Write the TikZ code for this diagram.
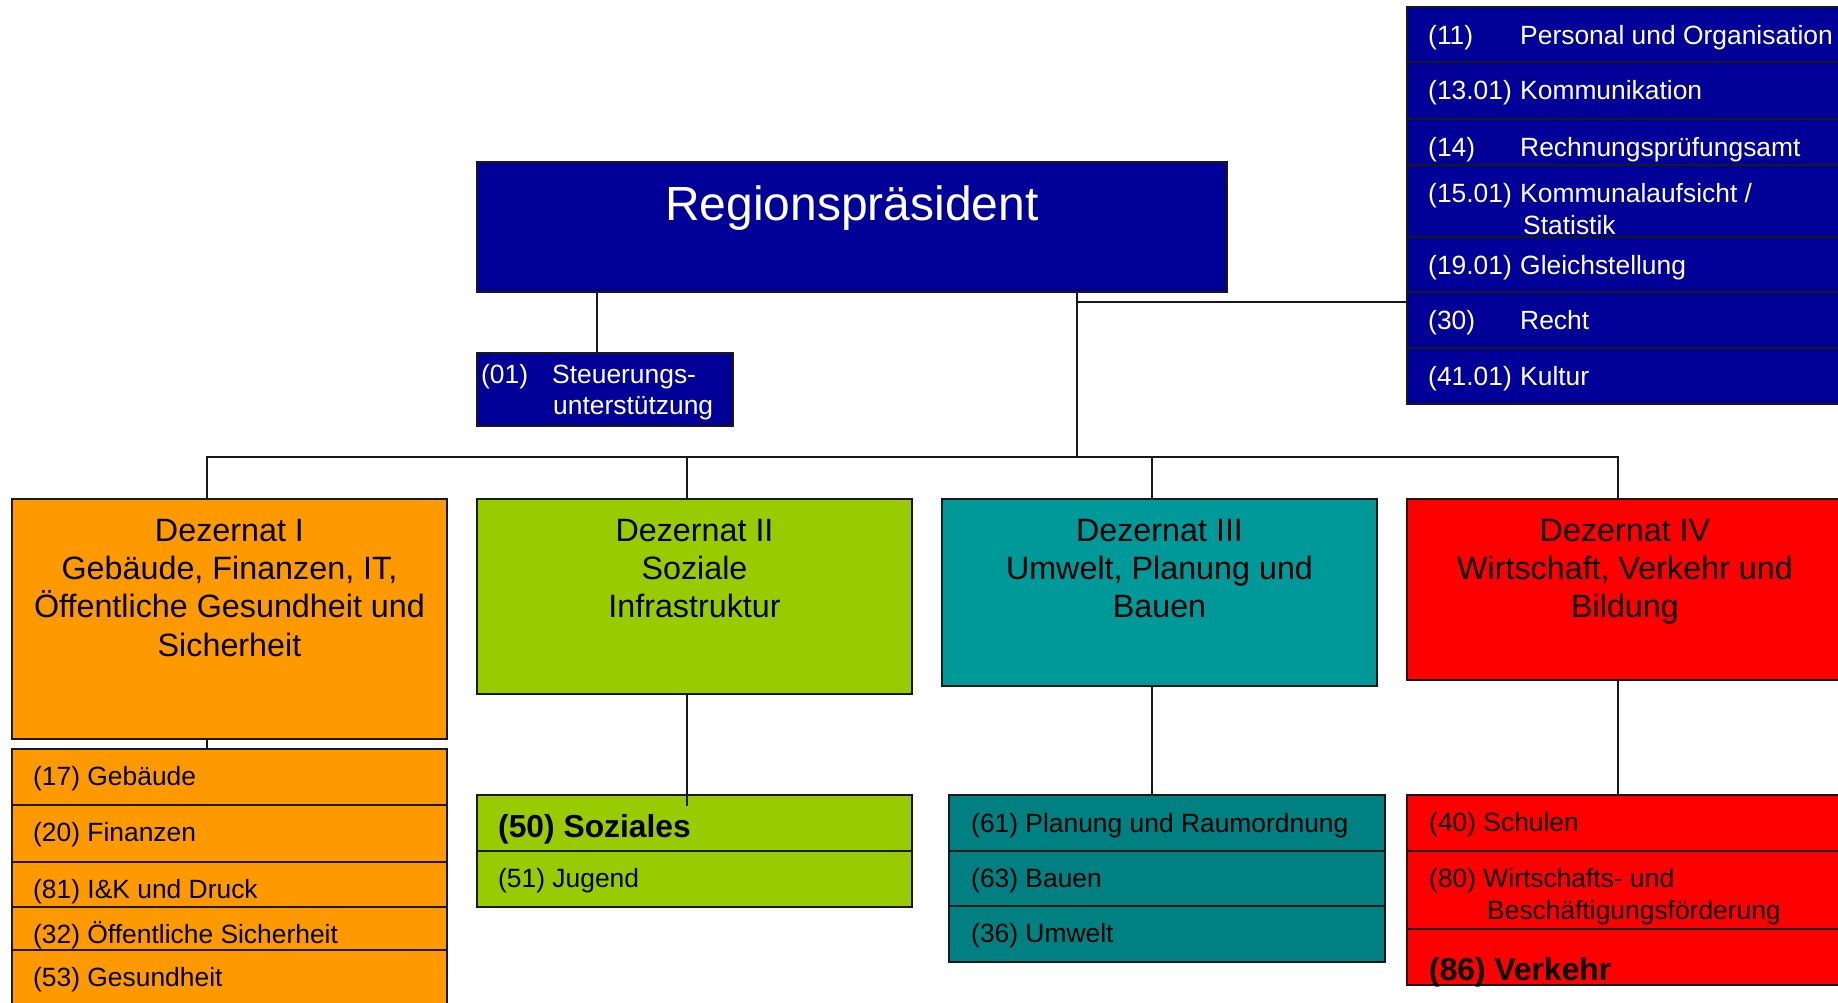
\documentclass[tikz,border=0pt]{standalone}
\usepackage{fontspec}
\setmainfont{Liberation Sans}
\definecolor{navy}{RGB}{0,0,153}
\definecolor{orng}{RGB}{255,153,0}
\definecolor{lgreen}{RGB}{153,204,0}
\definecolor{tealA}{RGB}{0,153,153}
\definecolor{tealB}{RGB}{0,128,128}
\definecolor{redA}{RGB}{255,0,0}
\definecolor{edge}{RGB}{25,25,25}
\begin{document}
\begin{tikzpicture}[x=1pt,y=-1pt,
  box/.style={draw=edge, line width=1.8pt, rectangle, inner sep=0pt, outer sep=0pt, anchor=north west},
  wh/.style 2 args={minimum width=#1pt, minimum height=#2pt},
  conn/.style={draw=edge, line width=1.4pt},
  sm/.style={inner sep=0pt, anchor=base west, font=\fontsize{26.4}{32}\selectfont},
  smw/.style={sm, text=white},
  bd/.style={inner sep=0pt, anchor=base west, font=\fontsize{31.8}{36}\selectfont\bfseries},
  dz/.style={inner sep=0pt, anchor=base, font=\fontsize{32.3}{38}\selectfont},
]
\useasboundingbox (0,0) rectangle (1838,1003);
\clip (0,0) rectangle (1838,1003);

% ---------- boxes ----------
\node[box, fill=navy, wh={750}{130}] (rp) at (477,162) {};
\node[box, fill=navy, wh={256}{73}] (s01) at (477,353) {};

\node[box, fill=navy, wh={445}{55}] (st1) at (1407,7) {};
\node[box, fill=navy, wh={445}{57}] (st2) at (1407,62) {};
\node[box, fill=navy, wh={445}{46}] (st3) at (1407,119) {};
\node[box, fill=navy, wh={445}{72}] (st4) at (1407,165) {};
\node[box, fill=navy, wh={445}{55}] (st5) at (1407,237) {};
\node[box, fill=navy, wh={445}{56}] (st6) at (1407,292) {};
\node[box, fill=navy, wh={445}{56}] (st7) at (1407,348) {};

\node[box, fill=orng, wh={435}{240}] (d1) at (12,499) {};
\node[box, fill=lgreen, wh={435}{195}] (d2) at (477,499) {};
\node[box, fill=tealA, wh={435}{187}] (d3) at (942,499) {};
\node[box, fill=redA, wh={440}{181}] (d4) at (1407,499) {};

\node[box, fill=orng, wh={435}{56}] (l1a) at (12,749) {};
\node[box, fill=orng, wh={435}{57}] (l1b) at (12,805) {};
\node[box, fill=orng, wh={435}{45}] (l1c) at (12,862) {};
\node[box, fill=orng, wh={435}{43}] (l1d) at (12,907) {};
\node[box, fill=orng, wh={435}{70}] (l1e) at (12,950) {};

\node[box, fill=lgreen, wh={435}{56}] (l2a) at (477,795) {};
\node[box, fill=lgreen, wh={435}{56}] (l2b) at (477,851) {};

\node[box, fill=tealB, wh={436}{56}] (l3a) at (949,795) {};
\node[box, fill=tealB, wh={436}{55}] (l3b) at (949,851) {};
\node[box, fill=tealB, wh={436}{56}] (l3c) at (949,906) {};

\node[box, fill=redA, wh={440}{56}] (l4a) at (1407,795) {};
\node[box, fill=redA, wh={440}{78}] (l4b) at (1407,851) {};
\node[box, fill=redA, wh={440}{56}] (l4c) at (1407,929) {};

% ---------- connectors ----------
\coordinate (bus) at (0,457);
\coordinate (sl) at (0,302);
\draw[conn] ([xshift=225pt]rp.south) -- ([xshift=225pt]rp.south |- bus);
\draw[conn] ([xshift=225pt]rp.south |- sl) -- (st6.west |- sl);
\draw[conn] ([xshift=-8pt]s01.north |- rp.south) -- ([xshift=-8pt]s01.north);
\draw[conn] ([xshift=-22.5pt]d1.north) -- ([xshift=-22.5pt]d1.north |- bus) -- ([xshift=-9pt]d4.north |- bus) -- ([xshift=-9pt]d4.north);
\draw[conn] ([xshift=-7.5pt]d2.north) -- ([xshift=-7.5pt]d2.north |- bus);
\draw[conn] ([xshift=-7.5pt]d3.north) -- ([xshift=-7.5pt]d3.north |- bus);
\draw[conn] ([xshift=-22.5pt]d1.south) -- ([xshift=-22.5pt]d1.south |- l1a.north);
\draw[conn] ([xshift=-7.5pt]d2.south) -- ([xshift=-7.5pt]d2.south |- l2a.north) -- ++(0,11);
\draw[conn] ([xshift=-7.5pt]d3.south) -- ([xshift=-7.5pt]d3.south |- l3a.north);
\draw[conn] ([xshift=-9pt]d4.south) -- ([xshift=-9pt]d4.south |- l4a.north);

% ---------- texts ----------
\node[dz, text=white, font=\fontsize{48}{56}\selectfont] (rpt) at (852,220) {Regionspräsident};

\node[smw] (s01n) at (481,383) {(01)};
\node[smw] (s01x) at (552,383) {Steuerungs-};
\node[smw] (s01y) at (553,414) {unterstützung};

\node[smw] (st1n) at (1428,44.5) {(11)};
\node[smw] (st1t) at (1520,44.5) {Personal und Organisation};
\node[smw] (st2n) at (1428,99.5) {(13.01)};
\node[smw] (st2t) at (1520,99.5) {Kommunikation};
\node[smw] (st3n) at (1428,156.5) {(14)};
\node[smw] (st3t) at (1520,156.5) {Rechnungsprüfungsamt};
\node[smw] (st4n) at (1428,202.5) {(15.01)};
\node[smw] (st4t) at (1520,202.5) {Kommunalaufsicht /};
\node[smw] (st4u) at (1523,234) {Statistik};
\node[smw] (st5n) at (1428,274.5) {(19.01)};
\node[smw] (st5t) at (1520,274.5) {Gleichstellung};
\node[smw] (st6n) at (1428,329.5) {(30)};
\node[smw] (st6t) at (1520,329.5) {Recht};
\node[smw] (st7n) at (1428,385.5) {(41.01)};
\node[smw] (st7t) at (1520,385.5) {Kultur};

\node[dz] (d1t1) at (229.5,541) {Dezernat I};
\node[dz] (d1t2) at (229.5,579.3) {Gebäude, Finanzen, IT,};
\node[dz] (d1t3) at (229.5,617.6) {Öffentliche Gesundheit und};
\node[dz] (d1t4) at (229.5,656) {Sicherheit};

\node[dz] (d2t1) at (694.5,541) {Dezernat II};
\node[dz] (d2t2) at (694.5,579.3) {Soziale};
\node[dz] (d2t3) at (694.5,617.6) {Infrastruktur};

\node[dz] (d3t1) at (1159.5,541) {Dezernat III};
\node[dz] (d3t2) at (1159.5,579.3) {Umwelt, Planung und};
\node[dz] (d3t3) at (1159.5,617.6) {Bauen};

\node[dz] (d4t1) at (1625,541) {Dezernat IV};
\node[dz] (d4t2) at (1625,579.3) {Wirtschaft, Verkehr und};
\node[dz] (d4t3) at (1625,617.6) {Bildung};

\node[sm] (l1at) at (33,785.5) {(17) Gebäude};
\node[sm] (l1bt) at (33,841.5) {(20) Finanzen};
\node[sm] (l1ct) at (33,898) {(81) I\&K und Druck};
\node[sm] (l1dt) at (33,943) {(32) Öffentliche Sicherheit};
\node[sm] (l1et) at (33,986.5) {(53) Gesundheit};

\node[bd] (l2at) at (498,837) {(50) Soziales};
\node[sm] (l2bt) at (498,887) {(51) Jugend};

\node[sm] (l3at) at (971,832) {(61) Planung und Raumordnung};
\node[sm] (l3bt) at (971,887) {(63) Bauen};
\node[sm] (l3ct) at (971,942) {(36) Umwelt};

\node[sm] (l4at) at (1429,831) {(40) Schulen};
\node[sm] (l4bt) at (1429,887) {(80) Wirtschafts- und};
\node[sm] (l4bu) at (1487,919) {Beschäftigungsförderung};
\node[bd] (l4ct) at (1429,980) {(86) Verkehr};
\end{tikzpicture}
\end{document}
